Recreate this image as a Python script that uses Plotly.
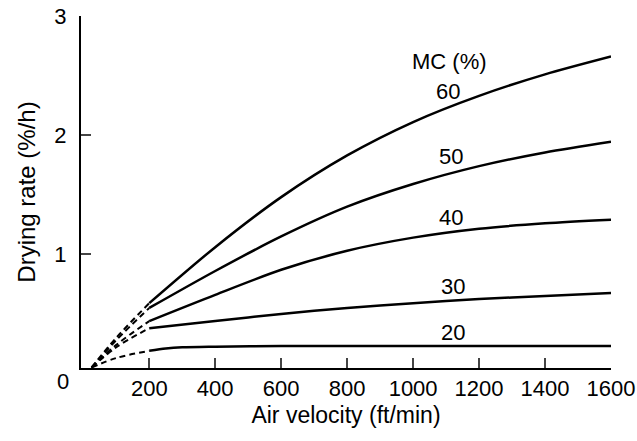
import plotly.graph_objects as go

# Solid portions (air velocity ft/min -> drying rate %/h)
x_solid = [200, 400, 600, 800, 1000, 1200, 1400, 1600]
mc60 = [0.59, 1.06, 1.48, 1.83, 2.11, 2.33, 2.51, 2.66]
mc50 = [0.55, 0.86, 1.15, 1.40, 1.59, 1.74, 1.855, 1.945]
mc40 = [0.44, 0.66, 0.87, 1.03, 1.14, 1.215, 1.26, 1.29]
mc30 = [0.38, 0.44, 0.50, 0.55, 0.59, 0.625, 0.65, 0.675]
x_solid20 = [200, 250, 300, 400, 600, 800, 1000, 1200, 1400, 1600]
mc20 = [0.19, 0.21, 0.22, 0.225, 0.23, 0.23, 0.23, 0.23, 0.23, 0.23]

# Dashed (extrapolated) portions
x_dash = [25, 100, 200]
d60 = [0.05, 0.30, 0.59]
d50 = [0.05, 0.28, 0.55]
d40 = [0.05, 0.24, 0.44]
d30 = [0.05, 0.22, 0.38]
d20 = [0.05, 0.13, 0.19]

mc_labels = ["60", "50", "40", "30", "20"]
label_x = [1106, 1115, 1115, 1121, 1121]
label_y = [2.37, 1.825, 1.309, 0.726, 0.348]

x_ticks = [200, 400, 600, 800, 1000, 1200, 1400, 1600]
y_ticks = [1, 2, 3]

FONT = "Liberation Sans, Arial, sans-serif"
FS = 22

fig = go.Figure()
for ys in [mc60, mc50, mc40, mc30]:
    fig.add_trace(go.Scatter(x=x_solid, y=ys, mode="lines", line=dict(color="black", width=2.5, shape="spline", smoothing=0.8), showlegend=False))
fig.add_trace(go.Scatter(x=x_solid20, y=mc20, mode="lines", line=dict(color="black", width=2.5, shape="spline", smoothing=0.8), showlegend=False))
for ys in [d60, d50, d40, d30, d20]:
    fig.add_trace(go.Scatter(x=x_dash, y=ys, mode="lines", line=dict(color="black", width=2, dash="6px,4px", shape="spline"), showlegend=False))

for t, lx, ly in zip(mc_labels, label_x, label_y):
    fig.add_annotation(x=lx, y=ly, text=t, showarrow=False, font=dict(family=FONT, size=FS, color="black"))
fig.add_annotation(x=1109, y=2.62, text="MC (%)", showarrow=False, font=dict(family=FONT, size=FS, color="black"))
# shared origin label at the lower-left corner
fig.add_annotation(xref="paper", yref="paper", x=-0.05, y=0, yanchor="top", yshift=1,
                   text="0", showarrow=False, font=dict(family=FONT, size=FS, color="black"))

fig.update_layout(
    width=637, height=441,
    margin=dict(l=81, r=26, t=16, b=73, autoexpand=False),
    paper_bgcolor="white", plot_bgcolor="white",
    font=dict(family=FONT, size=FS, color="black"),
    xaxis=dict(range=[-7, 1600], tickvals=x_ticks, ticks="inside", ticklen=10, tickwidth=2,
               showline=True, linewidth=2, linecolor="black", showgrid=False, zeroline=False,
               ticklabelstandoff=0, automargin=False,
               title=dict(text="Air velocity (ft/min)", standoff=6, font=dict(size=23))),
    yaxis=dict(range=[0.046, 3.0], tickvals=y_ticks, ticks="inside", ticklen=10, tickwidth=2,
               showline=True, linewidth=2, linecolor="black", showgrid=False, zeroline=False,
               ticklabelstandoff=8, automargin=False,
               title=dict(text="Drying rate (%/h)", standoff=12, font=dict(size=24))),
)
# remove the browser's default 8px body margin so the figure sits at the page origin
fig.write_html("out.html", config={"displayModeBar": False},
               post_script="document.body.style.margin='0px';")
